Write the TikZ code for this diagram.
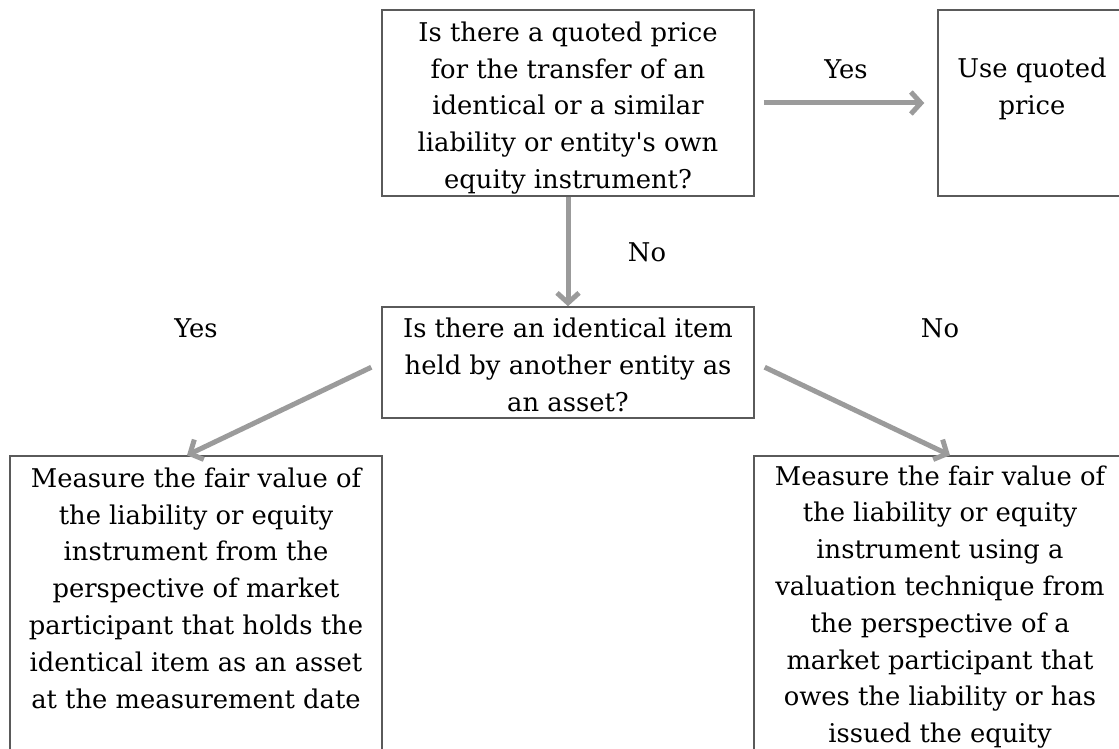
\documentclass[tikz,border=0pt]{standalone}
\usepackage{fontspec}
\setmainfont{DejaVu Serif}
\usetikzlibrary{arrows.meta}
\definecolor{arrowGray}{RGB}{155,155,155}
\definecolor{boxGray}{RGB}{90,90,90}

\begin{document}
\begin{tikzpicture}
[x=1pt, y=-1pt,
 every node/.style={align=center, inner sep=0pt,
   font=\fontsize{25.8}{36.8}\selectfont},
 nodeBox/.style={draw=boxGray, line width=1.5pt},
 nodeArrow/.style={draw=arrowGray, line width=5pt,
   -{Straight Barb[length=10pt,width=22pt]}}
]
\clip (0,0) rectangle (1119,749);
% boxes
\node[nodeBox, minimum width=372pt, minimum height=186pt] (Q1) at (568, 103) {};
\node[nodeBox, minimum width=188pt, minimum height=186pt] (P1) at (1032, 103) {};
\node[nodeBox, minimum width=372pt, minimum height=111pt] (Q2) at (568, 362.5) {};
\node[nodeBox, minimum width=372pt, minimum height=344pt] (M1) at (196, 628) {};
\node[nodeBox, minimum width=372pt, minimum height=344pt] (M2) at (940, 628) {};
% texts
\node           (Q1t) at (568, 108) {Is there a quoted price\\ for the transfer of an\\
  identical or a similar\\ liability or entity\textquotesingle s own\\ equity instrument?};
\node           (P1t) at (1032,  89) {Use quoted\\ price};
\node           (Q2t) at (568, 365) {Is there an identical item\\ held by another entity as\\ an asset?};
\node           (M1t) at (196, 588) {Measure the fair value of\\ the liability or equity\\
  instrument from the\\ perspective of market\\ participant that holds the\\
  identical item as an asset\\ at the measurement date};
\node           (M2t) at (940, 607) {Measure the fair value of\\ the liability or equity\\
  instrument using a\\ valuation technique from\\ the perspective of a\\
  market participant that\\ owes the liability or has\\ issued the equity};
\node           (L1) at (846,  69) {Yes};
\node           (L2) at (647, 252) {No};
\node           (L3) at (196, 328) {Yes};
\node           (L4) at (940, 328) {No};
% arrows
\draw[nodeArrow, shorten <=9pt, shorten >=13pt] (Q1.east) -- (P1.west);
\draw[nodeArrow] (Q1.south) -- (Q2.north);
\draw[nodeArrow, shorten <=11pt] (Q2.west) -- ([xshift=-9pt]M1.north);
\draw[nodeArrow, shorten <=11pt] (Q2.east) -- ([xshift=10pt]M2.north);
\end{tikzpicture}
\end{document}
